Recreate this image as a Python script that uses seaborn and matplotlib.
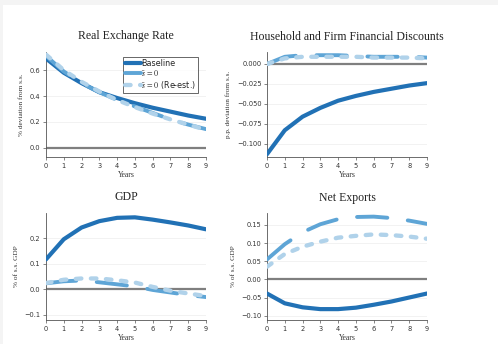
import numpy as np
import pandas as pd
import matplotlib
matplotlib.use("Agg")
import matplotlib.pyplot as plt
import seaborn as sns
from matplotlib.patches import Rectangle

years = list(range(10))

# Real exchange rate (% deviation from s.s.)
rer_base = [0.69, 0.58, 0.50, 0.43, 0.385, 0.345, 0.31, 0.28, 0.25, 0.225]
rer_s0 = [0.71, 0.59, 0.50, 0.43, 0.37, 0.32, 0.27, 0.22, 0.18, 0.145]
rer_reest = [0.72, 0.60, 0.51, 0.435, 0.37, 0.315, 0.265, 0.22, 0.18, 0.14]

# Household and firm financial discounts (p.p. deviation from s.s.)
disc_base = [-0.113, -0.083, -0.066, -0.055, -0.046, -0.040, -0.035, -0.031, -0.027, -0.024]
disc_s0 = [0.0, 0.009, 0.011, 0.011, 0.011, 0.010, 0.009, 0.009, 0.009, 0.008]
disc_reest = [0.0, 0.007, 0.009, 0.009, 0.009, 0.009, 0.008, 0.008, 0.008, 0.007]

# GDP (% of s.s. GDP)
gdp_base = [0.118, 0.197, 0.243, 0.268, 0.281, 0.283, 0.274, 0.263, 0.251, 0.236]
gdp_s0 = [0.024, 0.032, 0.035, 0.028, 0.020, 0.012, -0.002, -0.012, -0.022, -0.030]
gdp_reest = [0.025, 0.038, 0.043, 0.043, 0.036, 0.027, 0.010, -0.005, -0.016, -0.026]

# Net exports (% of s.s. GDP)
nx_base = [-0.039, -0.066, -0.077, -0.082, -0.082, -0.078, -0.070, -0.061, -0.050, -0.039]
nx_s0 = [0.055, 0.097, 0.130, 0.152, 0.166, 0.172, 0.173, 0.169, 0.162, 0.153]
nx_reest = [0.035, 0.070, 0.090, 0.104, 0.115, 0.120, 0.124, 0.122, 0.118, 0.112]

labels = ["Baseline", r"$\bar{s}\,=\,0$", r"$\bar{s}\,=\,0$ (Re-est.)"]
colors = ["#2171b5", "#5ea5d6", "#b0d2ea"]

sns.set_style("whitegrid")
plt.rcParams["font.family"] = ["DejaVu Sans"]
plt.rcParams["mathtext.fontset"] = "stix"

fig = plt.figure(figsize=(4.98, 3.44), dpi=100)
fig.patch.set_facecolor("#f4f4f4")
fig.patches.append(Rectangle((3 / 498, 0), 1, 1 - 5 / 344, transform=fig.transFigure,
                             facecolor="white", edgecolor="none", zorder=-10))

W, H = 498, 344
boxes = [(46, 52, 206, 157), (267, 52, 427, 157), (46, 213, 206, 320), (267, 213, 427, 320)]
axes = [fig.add_axes([l / W, 1 - b / H, (r - l) / W, (b - t) / H]) for l, t, r, b in boxes]

panels = [
    ("Real Exchange Rate", "% deviation from s.s.", (rer_base, rer_s0, rer_reest), (-0.07, 0.74),
     [0.0, 0.2, 0.4, 0.6], "{:.1f}"),
    ("Household and Firm Financial Discounts", "p.p. deviation from s.s.", (disc_base, disc_s0, disc_reest),
     (-0.1165, 0.015), [-0.100, -0.075, -0.050, -0.025, 0.0], "{:.3f}"),
    ("GDP", "% of s.s. GDP", (gdp_base, gdp_s0, gdp_reest), (-0.12, 0.30), [-0.1, 0.0, 0.1, 0.2], "{:.1f}"),
    ("Net Exports", "% of s.s. GDP", (nx_base, nx_s0, nx_reest), (-0.112, 0.183),
     [-0.10, -0.05, 0.0, 0.05, 0.10, 0.15], "{:.2f}"),
]

for ax, (title, ylab, series, ylim, yt, fmt) in zip(axes, panels):
    base, s0, reest = series
    ax.axhline(0, color="#7f7f7f", lw=1.6, zorder=1)
    sns.lineplot(x=years, y=base, ax=ax, color=colors[0], lw=3.0, label=labels[0],
                 solid_capstyle="round", zorder=3)
    sns.lineplot(x=years, y=s0, ax=ax, color=colors[1], lw=2.8, label=labels[1],
                 linestyle=(0, (7.8, 5.3)), dash_capstyle="round", zorder=4)
    sns.lineplot(x=years, y=reest, ax=ax, color=colors[2], lw=3.1, label=labels[2],
                 linestyle=(0, (1.3, 2.2)), dash_capstyle="round", zorder=5)
    ax.set_xlim(0, 9)
    ax.set_ylim(*ylim)
    ax.set_xticks(years)
    ax.set_yticks(yt)
    ax.set_yticklabels([fmt.format(v).replace("-", "\u2212") for v in yt])
    ax.grid(axis="x", visible=False)
    ax.grid(axis="y", color="#f0f0f0", lw=0.6)
    for s in ["top", "right"]:
        ax.spines[s].set_visible(False)
    for s in ["left", "bottom"]:
        ax.spines[s].set_color("#555555")
        ax.spines[s].set_linewidth(0.6)
    ax.tick_params(axis="both", labelsize=4.8, length=2, width=0.5, color="#555555",
                   pad=2, labelcolor="#333333", bottom=True, left=True)
    ax.set_title(title, family="Liberation Serif", fontsize=8.5, pad=9, color="#222222")
    ax.set_xlabel("Years", family="Liberation Serif", fontsize=5.5, labelpad=2, color="#333333")
    ax.set_ylabel(ylab, family="Liberation Serif", fontsize=5.2, labelpad=4, color="#333333")
    ax.get_legend().remove()

handles, labs = axes[0].get_legend_handles_labels()
leg = axes[0].legend(handles, labs, loc="upper right", bbox_to_anchor=(0.96, 0.97), fontsize=5.8,
                     frameon=True, fancybox=False, edgecolor="#222222", handlelength=2.0,
                     handletextpad=0.0, borderpad=0.25, labelspacing=0.05, borderaxespad=0.2)
leg.get_frame().set_linewidth(0.6)

fig.savefig("out.png", dpi=100, facecolor=fig.get_facecolor())
